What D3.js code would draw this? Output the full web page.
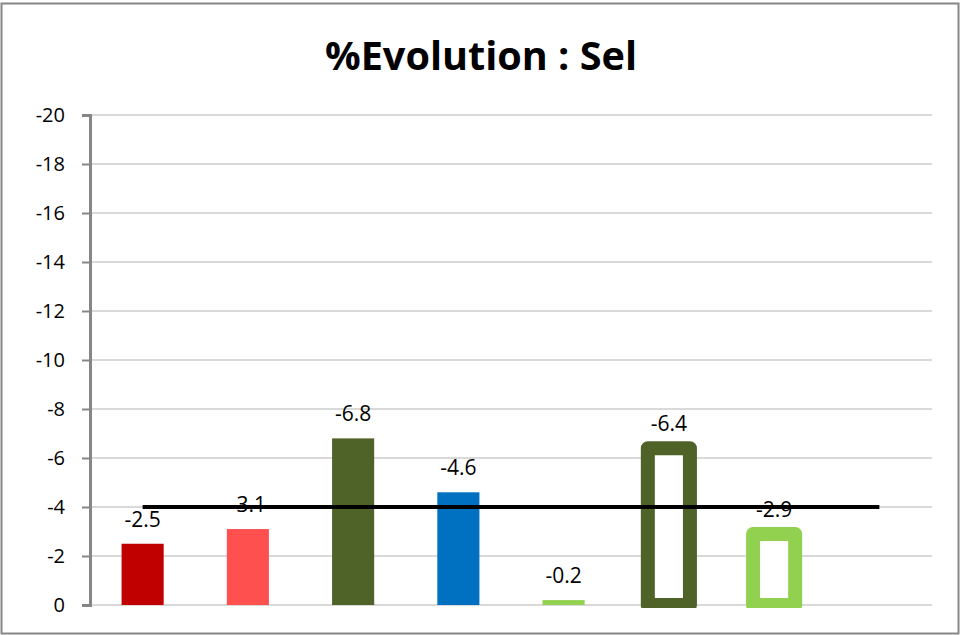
<!DOCTYPE html>
<html>
<head>
<meta charset="utf-8">
<script src="https://cdn.jsdelivr.net/npm/d3@7"></script>
<style>
  html, body { margin: 0; padding: 0; background: #fff; }
  svg { display: block; }
  text { font-family: "Open Sans", "Noto Sans", sans-serif; fill: #000; }
</style>
</head>
<body>
<svg id="chart" width="961" height="635"></svg>
<script>
// Categories (the last slot is empty but keeps its place on the axis)
const categories = ["c1", "c2", "c3", "c4", "c5", "c6", "c7", "c8"];
// Evolution values in %
const values = [-2.5, -3.1, -6.8, -4.6, -0.2, -6.4, -2.9, null];
// Bar colours and whether the bar is drawn as an outline only
const barColors = ["#C00000", "#FF5050", "#4F6228", "#0070C0", "#92D050", "#4F6228", "#92D050", null];
const outlined = [false, false, false, false, false, true, true, false];
// Reference line across all categories
const reference = [-4, -4, -4, -4, -4, -4, -4, -4];
// Y axis ticks
const yTicks = [0, -2, -4, -6, -8, -10, -12, -14, -16, -18, -20];
const title = "%Evolution : Sel";

const svg = d3.select("#chart");
const W = 961, H = 635;
const plot = { left: 90, right: 932, top: 115, bottom: 605 };

// Outer frame
svg.append("rect")
  .attr("x", 1.5).attr("y", 3.5)
  .attr("width", W - 4).attr("height", H - 5)
  .attr("fill", "#fff").attr("stroke", "#868686").attr("stroke-width", 2);

const x = d3.scaleBand().domain(categories).range([plot.left, plot.right]).paddingInner(0.6).paddingOuter(0.3);
const y = d3.scaleLinear().domain([0, -20]).range([plot.bottom, plot.top]);

// Title
svg.append("text")
  .attr("x", 481).attr("y", 70)
  .attr("text-anchor", "middle")
  .attr("font-size", 40).attr("font-weight", "bold")
  .attr("textLength", 312).attr("lengthAdjust", "spacingAndGlyphs")
  .text(title);

// Gridlines
svg.append("g")
  .selectAll("line")
  .data(yTicks)
  .join("line")
  .attr("x1", plot.left).attr("x2", plot.right)
  .attr("y1", d => y(d)).attr("y2", d => y(d))
  .attr("stroke", "#D9D9D9").attr("stroke-width", 2);

// Y axis
const yAxis = d3.axisLeft(y).tickValues(yTicks).tickFormat(d => d === 0 ? "0" : String(d)).tickSize(8).tickPadding(17);
const gy = svg.append("g").attr("transform", `translate(${plot.left},0)`).call(yAxis);
gy.select(".domain").attr("stroke", "#868686").attr("stroke-width", 3);
gy.selectAll(".tick line").attr("stroke", "#868686").attr("stroke-width", 2);
gy.selectAll(".tick text")
  .attr("font-family", "'Open Sans', 'Noto Sans', sans-serif")
  .attr("font-size", 20).attr("fill", "#000");

// Clip bars to the plot area (with a little slack at the bottom)
svg.append("clipPath").attr("id", "plotClip")
  .append("rect").attr("x", plot.left).attr("y", plot.top - 20)
  .attr("width", plot.right - plot.left).attr("height", plot.bottom + 3 - (plot.top - 20));

const rows = categories.map((c, i) => ({ c, v: values[i], color: barColors[i], outline: outlined[i] }))
  .filter(d => d.v !== null);

const bars = svg.append("g").attr("clip-path", "url(#plotClip)");
bars.selectAll("rect")
  .data(rows)
  .join("rect")
  .attr("x", d => x(d.c))
  .attr("width", x.bandwidth())
  .attr("y", d => y(d.v))
  .attr("height", d => y(0) - y(d.v))
  .attr("fill", d => d.outline ? "#fff" : d.color)
  .attr("stroke", d => d.outline ? d.color : "none")
  .attr("stroke-width", d => d.outline ? 14 : 0)
  .attr("stroke-linejoin", "round");

// Reference line
const line = d3.line()
  .x((d, i) => x(categories[i]) + x.bandwidth() / 2)
  .y(d => y(d));
svg.append("path")
  .datum(reference)
  .attr("d", line)
  .attr("fill", "none").attr("stroke", "#000").attr("stroke-width", 4);

// Data labels
svg.append("g")
  .selectAll("text")
  .data(rows)
  .join("text")
  .attr("x", d => x(d.c) + x.bandwidth() / 2)
  .attr("y", d => y(d.v) - 17)
  .attr("text-anchor", "middle")
  .attr("font-size", 21)
  .text(d => d.v.toFixed(1));
</script>
</body>
</html>
